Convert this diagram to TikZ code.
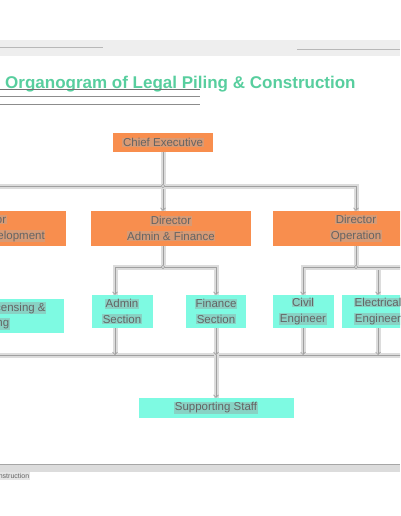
\documentclass[tikz,border=0pt]{standalone}
\usepackage{fontspec}
\setmainfont{Liberation Sans}
\usetikzlibrary{arrows.meta,positioning,calc}
\definecolor{Orange}{HTML}{F88E4E}
\definecolor{Aqua}{HTML}{7EFAE2}
\definecolor{Title}{HTML}{58CE9E}
\definecolor{Band}{HTML}{DCDCDC}
\definecolor{Wire}{HTML}{A0A0A0}
\definecolor{Ink}{HTML}{646464}
\definecolor{HlOrange}{HTML}{D89A74}
\definecolor{HlAqua}{HTML}{88D2C4}
\definecolor{Chrome}{HTML}{EEEEEE}
\definecolor{Rule}{HTML}{B8B8B8}
\newcommand{\hlo}[1]{\colorbox{HlOrange}{#1}}
\newcommand{\hla}[1]{\colorbox{HlAqua}{#1}}
\setlength{\fboxsep}{0.6pt}

\begin{document}
\begin{tikzpicture}[
  x=1pt,y=-1pt,
  font=\fontsize{11.5}{15.5}\selectfont,
  box/.style={text=Ink,align=center,inner sep=0pt},
  head/.style={box,fill=Orange},
  unit/.style={box,fill=Aqua},
  conn/.style={draw=Wire,line width=0.7pt,-{Straight Barb[length=2.5pt,width=5pt]},
    preaction={draw=Band,line width=5pt,-}},
  wire/.style={conn,-},
  joint/.style={circle,draw=Wire,fill=Band,line width=0.5pt,inner sep=0pt,minimum size=3.5pt}
]
\useasboundingbox (0,0) rectangle (400,516);
\clip (0,0) rectangle (400,516);
% page chrome
\fill[Chrome] (0,40) rectangle (400,56);
\draw[Rule,line width=0.8pt] (0,47) -- (103,47);
\draw[Rule,line width=0.8pt] (297,49) -- (400,49);
\node[anchor=base west,inner sep=0pt,text=Title,font=\bfseries\fontsize{17}{20}\selectfont] (title) at (5,89)
  {Organogram of Legal Piling \& Construction};
\draw[black!55,line width=0.5pt] (0,89.5) -- (200,89.5);
\draw[black!45,line width=0.9pt] (0,96) -- (200,96);
\draw[black!45,line width=0.9pt] (0,104) -- (200,104);
\fill[Band] (0,465) rectangle (400,472);
\draw[black!35,line width=0.6pt] (0,464.5) -- (400,464.5);
\node[anchor=base east,inner sep=0pt,text=Ink,font=\fontsize{7}{8}\selectfont] (footer) at (30,478)
  {\colorbox{black!10}{Legal Piling \& Construction}};

% boxes
\node[head,minimum width=100pt,minimum height=19pt] (chief) at (163,142.5) {\hlo{Chief Executive}};
\node[head,minimum width=160pt,minimum height=35pt] (dirdev) at (-14,228.5)
  {\hlo{Director}\\\hlo{Business Development}};
\node[head,minimum width=160pt,minimum height=35pt] (diraf) at (171,228.5)
  {\hlo{Director}\\\hlo{Admin \& Finance}};
\node[head,minimum width=166pt,minimum height=35pt] (dirop) at (356,228.5)
  {\hlo{Director}\\\hlo{Operation}};

\node[unit,minimum width=160pt,minimum height=34pt] (licen) at (-16,316)
  {\hla{Purchasing, Licensing \&}\\\hla{Marketing}};
\node[unit,minimum width=61pt,minimum height=33pt] (admin) at (122,311.5)
  {\hla{Admin}\\\hla{Section}};
\node[unit,minimum width=60pt,minimum height=33pt] (finance) at (216,311.5)
  {\hla{Finance}\\\hla{Section}};
\node[unit,minimum width=61pt,minimum height=33pt] (civil) at (303,311.5)
  {\hla{Civil}\\\hla{Engineer}};
\node[unit,minimum width=72pt,minimum height=33pt] (elec) at (378,311.5)
  {\hla{Electrical}\\\hla{Engineer}};

\node[unit,minimum width=155pt,minimum height=20pt] (support) at (216,408) {\hla{Supporting Staff}};

% chief to directors
\coordinate (top) at (163,186);
\draw[wire] (chief.south) -- (top);
\draw[conn] (top) -| (dirdev.north);
\draw[conn] (top) -- (top |- diraf.north);
\draw[conn] (top) -| (dirop.north);
\node[joint] at (top) {};

% directors to sections
\coordinate (af) at (163,267);
\coordinate (op) at (356,267);
\coordinate (opend) at (410,267);
\draw[wire] (diraf.south -| top) -- (af);
\draw[conn] (af) -| ([xshift=-7pt]admin.north);
\draw[conn] (af) -| (finance.north);
\node[joint] at (af) {};
\draw[wire] (dirop.south) -- (op);
\draw[conn] (op) -| (civil.north);
\draw[conn] (op) -| (elec.north);
\draw[wire] (elec.north |- op) -- (opend);
\node[joint] at (op) {};

% sections to supporting staff
\coordinate (bus) at (216,355);
\coordinate (busend) at (410,355);
\draw[wire] (licen.south |- bus) -- (busend);
\draw[conn] (licen.south) -- (licen.south |- bus);
\draw[conn] ([xshift=-7pt]admin.south) -- ([xshift=-7pt]admin.south |- bus);
\draw[conn] (finance.south) -- (finance.south |- bus);
\draw[conn] (civil.south) -- (civil.south |- bus);
\draw[conn] (elec.south) -- (elec.south |- bus);
\draw[conn] (bus) -- (support.north);
\end{tikzpicture}
\end{document}
